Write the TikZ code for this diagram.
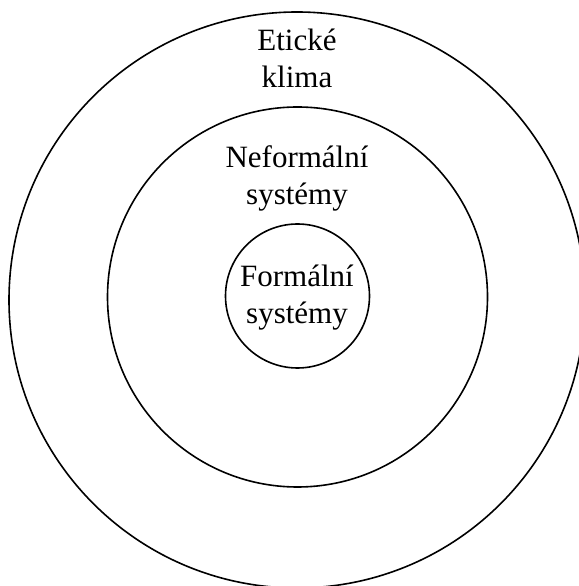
\documentclass[tikz,border=0pt]{standalone}
\usepackage{fontspec}
\setmainfont{Liberation Serif}
\begin{document}
\begin{tikzpicture}[x=1pt,y=1pt,
  ring/.style={draw=black, line width=1.6pt, circle, inner sep=0pt},
  lbl/.style={align=center, inner sep=0pt, font=\fontsize{31}{37}\selectfont, anchor=base}]
\useasboundingbox (0,0) rectangle (578,586);
\node[ring, minimum size=576pt] (outer) at (297,286) {};
\node[ring, minimum size=380pt] (middle) at (297.5,289) {};
\node[ring, minimum size=144pt] (inner) at (297.5,290) {};
\node[lbl] (t1) at (297,498.6) {Etické\\klima};
\node[lbl] (t2) at (297,381.4) {Neformální\\systémy};
\node[lbl] (t3) at (297,262.4) {Formální\\systémy};
\end{tikzpicture}
\end{document}
